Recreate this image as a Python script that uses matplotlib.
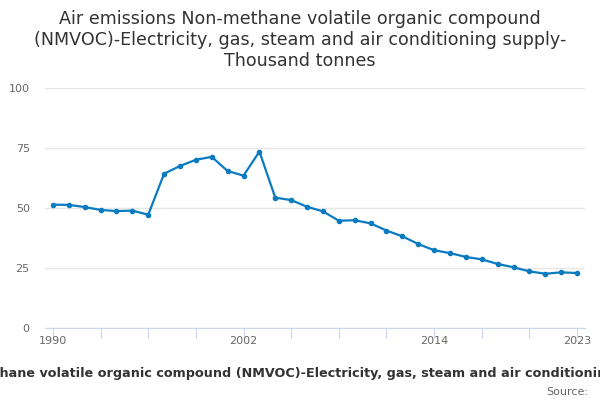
import matplotlib.pyplot as plt

years = list(range(1990, 2024))
values = [51.4, 51.3, 50.4, 49.2, 48.7, 48.9, 47.2, 64.3, 67.5, 70.1,
          71.3, 65.4, 63.5, 73.5, 54.3, 53.3, 50.5, 48.6, 44.7, 44.9,
          43.6, 40.6, 38.2, 35.0, 32.4, 31.2, 29.6, 28.6, 26.7, 25.3,
          23.6, 22.6, 23.2, 22.9]
yticks = [0, 25, 50, 75, 100]
xlabels = {1990: "1990", 2002: "2002", 2014: "2014", 2023: "2023"}

title = ("Air emissions Non-methane volatile organic compound\n"
         "(NMVOC)-Electricity, gas, steam and air conditioning supply-\n"
         "Thousand tonnes")
xtitle = ("Air emissions Non-methane volatile organic compound (NMVOC)"
          "-Electricity, gas, steam and air conditioning supply")

fig = plt.figure(figsize=(6, 4), dpi=100)
ax = fig.add_axes([45 / 600, 72 / 400, 540 / 600, 240 / 400])

x = list(range(len(years)))
ax.plot(x, values, color="#0a7bc1", linewidth=1.6, marker="o", markersize=3)

ax.set_xlim(-0.5, len(years) - 0.5)
ax.set_ylim(0, 100)
ax.set_yticks(yticks)
ax.set_yticklabels([str(v) for v in yticks])
ax.grid(axis="y", color="#e6e6e6", linewidth=1)
ax.set_axisbelow(True)
for s in ["top", "right", "left"]:
    ax.spines[s].set_visible(False)
ax.spines["bottom"].set_color("#ccd6eb")
ax.tick_params(axis="y", length=0, labelsize=8, labelcolor="#666666", pad=11)

tick_pos = [i for i, y in enumerate(years) if (y - 1990) % 3 == 0]
ax.set_xticks(tick_pos)
ax.set_xticklabels([xlabels.get(years[i], "") for i in tick_pos])
ax.tick_params(axis="x", length=7, color="#ccd6eb", labelsize=8,
               labelcolor="#666666", pad=-1)

fig.text(0.5, 0.975, title, ha="center", va="top", fontsize=12.6,
         color="#333333", linespacing=1.2)
fig.text(252 / 600, 1 - 373 / 400, xtitle, ha="center", va="center",
         fontsize=9.2, fontweight="bold", color="#333333")
fig.text(588 / 600, 1 - 392 / 400, "Source:", ha="right", va="center",
         fontsize=8, color="#666666")

fig.savefig("out.png", dpi=100)
